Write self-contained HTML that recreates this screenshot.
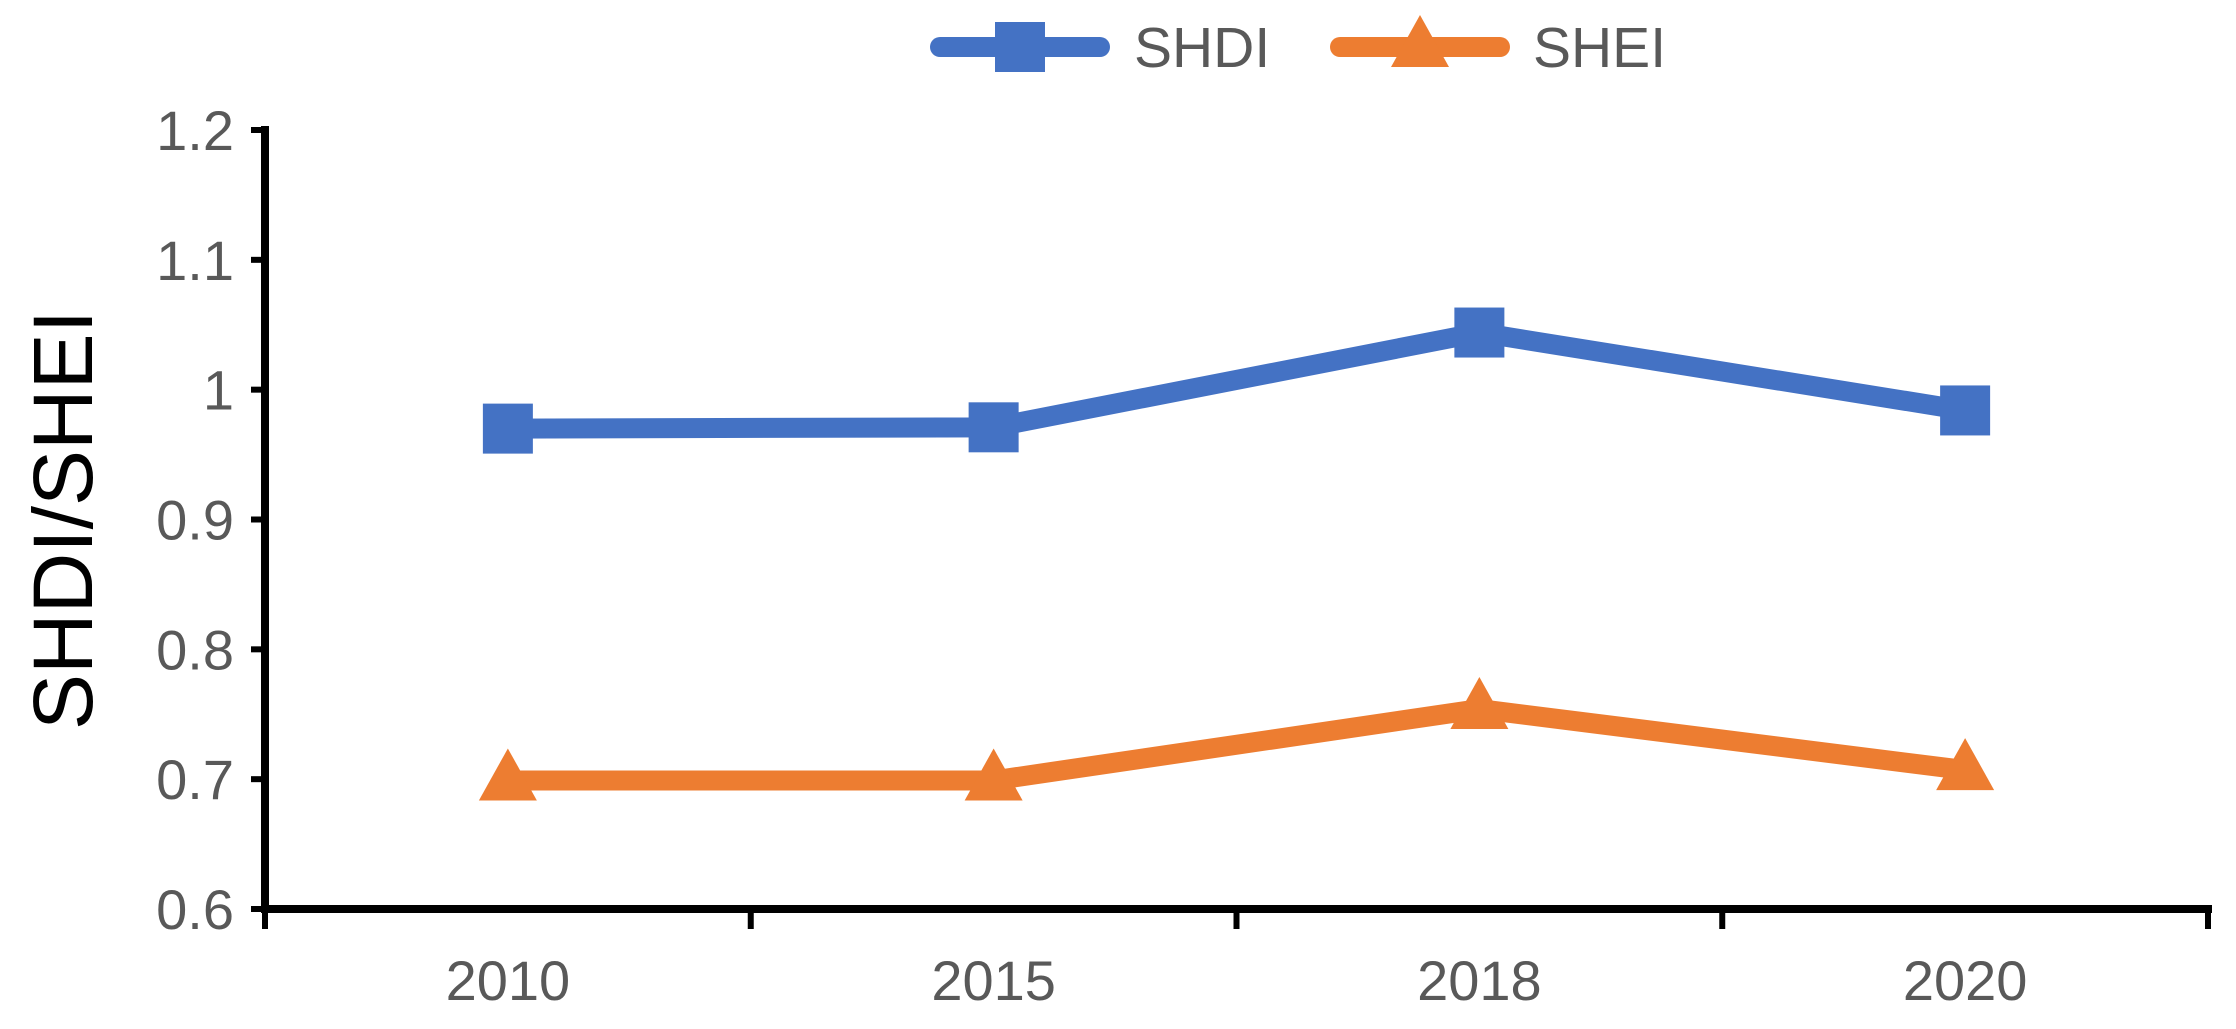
<!DOCTYPE html>
<html><head><meta charset="utf-8"><style>
html,body{margin:0;padding:0;background:#fff;}
svg text{font-family:"Liberation Sans",Arial,sans-serif;}
</style></head><body>
<svg id="chart" width="2236" height="1024" viewBox="0 0 2236 1024" xmlns="http://www.w3.org/2000/svg">
<rect width="2236" height="1024" fill="#fff"/>
<g id="grid"></g>
</svg>
<script>
const categories = ["2010","2015","2018","2020"];
const shdiValues = [0.970, 0.971, 1.044, 0.984];
const sheiValues = [0.699, 0.699, 0.754, 0.707];
const yTicks = [0.6,0.7,0.8,0.9,1,1.1,1.2];
const yTickLabels = ["0.6","0.7","0.8","0.9","1","1.1","1.2"];

const NS="http://www.w3.org/2000/svg";
const svg=document.getElementById('chart');
const X0=265,X1=2208,Y0=909,Y1=130,YMIN=0.6,YMAX=1.2;
const bw=(X1-X0)/categories.length;
function xPos(i){return X0+bw*(i+0.5);}
function yPos(v){return Y0-(v-YMIN)/(YMAX-YMIN)*(Y0-Y1);}
function mk(tag,attrs,parent){const e=document.createElementNS(NS,tag);for(const k in attrs)e.setAttribute(k,attrs[k]);(parent||svg).appendChild(e);return e;}

// axes
let a=mk('line',{x1:X0,y1:Y0,x2:X1+4,y2:Y0,stroke:'#000','stroke-width':8});


a=mk('line',{x1:X0,y1:Y1-4,x2:X0,y2:Y0+4,stroke:'#000','stroke-width':8});



yTicks.forEach((v,i)=>{
  const y=yPos(v);
  const t=mk('line',{x1:X0-14,y1:y,x2:X0,y2:y,stroke:'#000','stroke-width':6});
  
  
  const l=mk('text',{x:234,y:y+20,'text-anchor':'end','font-size':56,fill:'#595959'});
  l.textContent=yTickLabels[i];
  
  
});
for(let i=0;i<=categories.length;i++){
  const x=X0+bw*i;
  const t=mk('line',{x1:x,y1:Y0,x2:x,y2:Y0+20,stroke:'#000','stroke-width':6});
  
  
}
categories.forEach((c,i)=>{
  const l=mk('text',{x:xPos(i),y:1000,'text-anchor':'middle','font-size':56,fill:'#595959'});
  l.textContent=c;
  
  
});

const yt=mk('text',{x:0,y:0,transform:'translate(92,520) rotate(-90)','text-anchor':'middle','font-size':84,fill:'#000'});
yt.textContent='SHDI/SHEI';



function square(x,y,color,parent){return mk('rect',{x:x-25,y:y-25,width:50,height:50,fill:color},parent);}
function tri(x,y,color,parent){return mk('polygon',{points:`${x},${y-32} ${x+29},${y+20} ${x-29},${y+20}`,fill:color},parent);}

function series(vals,color,marker,name){
  const g=mk('g',{});
  
  
  const pts=vals.map((v,i)=>xPos(i)+','+yPos(v)).join(' ');
  const pl=mk('polyline',{points:pts,fill:'none',stroke:color,'stroke-width':20,'stroke-linejoin':'round','stroke-linecap':'round'},g);
  
  
  vals.forEach((v,i)=>{
    const m=marker(xPos(i),yPos(v),color,g);
    
    
  });
}
series(shdiValues,'#4472C4',square,'shdi');
series(sheiValues,'#ED7D31',tri,'shei');

// legend
function legend(x1,x2,tx,color,marker,label,name){
  const g=mk('g',{});
  
  
  mk('line',{x1:x1,y1:47,x2:x2,y2:47,stroke:color,'stroke-width':20,'stroke-linecap':'round'},g);
  marker((x1+x2)/2,47,color,g);
  const t=mk('text',{x:tx,y:67,'font-size':57,fill:'#595959'},g);
  t.textContent=label;
}
legend(940,1100,1134,'#4472C4',square,'SHDI','shdi');
legend(1340,1500,1533,'#ED7D31',tri,'SHEI','shei');
</script>
</body></html>
